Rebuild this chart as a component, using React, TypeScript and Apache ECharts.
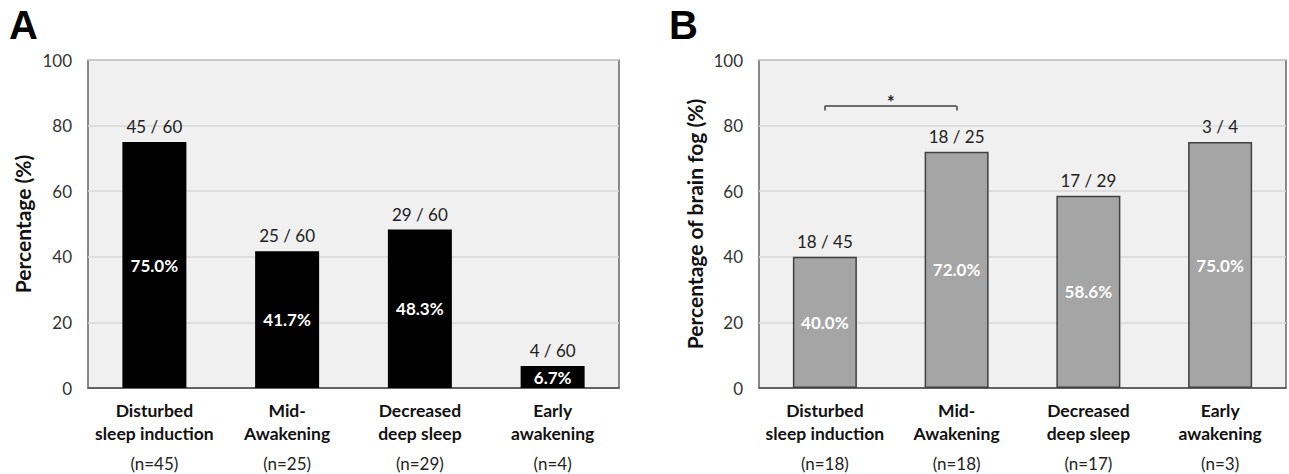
import React, { useEffect, useRef } from "react";
import * as echarts from "echarts";

const categories = ["Disturbed\nsleep induction", "Mid-\nAwakening", "Decreased\ndeep sleep", "Early\nawakening"];
const aCounts = [45, 25, 29, 4];
const aTotal = 60;
const aPercent = [75.0, 41.7, 48.3, 6.7];
const aN = [45, 25, 29, 4];
const bCounts = [18, 18, 17, 3];
const bTotals = [45, 25, 29, 4];
const bPercent = [40.0, 72.0, 58.6, 75.0];
const bN = [18, 18, 17, 3];
const yTicks = [0, 20, 40, 60, 80, 100];

const FONT = "Lato";

function catAxis(gridIndex: number, ns: number[]) {
  return {
    type: "category",
    gridIndex,
    data: categories,
    axisTick: { show: false },
    axisLine: { lineStyle: { color: "#404040", width: 1.5 } },
    axisLabel: {
      margin: 11,
      interval: 0,
      formatter: (v: string, i: number) => {
        const lines = v.split("\n");
        return `{b|${lines[0]}}\n{b|${lines[1]}}\n{n|(n=${ns[i]})}`;
      },
      rich: {
        b: { fontFamily: FONT, fontWeight: "bold", fontSize: 17.5, color: "#111", lineHeight: 23 },
        n: { fontFamily: FONT, fontSize: 17, color: "#222", lineHeight: 37 },
      },
    },
  };
}

function valAxis(gridIndex: number, name: string, nameGap: number) {
  return {
    type: "value",
    gridIndex,
    min: 0,
    max: 100,
    interval: 20,
    name,
    nameLocation: "middle",
    nameGap,
    nameTextStyle: { fontFamily: FONT, fontWeight: "bold", fontSize: 21, color: "#111" },
    axisLine: { show: false },
    axisTick: { show: false },
    axisLabel: {
      margin: 16,
      fontFamily: FONT,
      fontSize: 17,
      color: "#333",
      formatter: (v: number) => (yTicks.includes(v) ? String(v) : ""),
    },
    splitLine: { lineStyle: { color: "#d9d9d9", width: 1.5 } },
  };
}

export default function App() {
  const ref = useRef<HTMLDivElement>(null);
  useEffect(() => {
    if (!ref.current) return;
    const chart = echarts.init(ref.current, null, { renderer: "svg" });
    const option: any = {
      animation: false,
      backgroundColor: "#ffffff",
      title: [
        { text: "A", left: 4, top: 0, textStyle: { fontFamily: "Liberation Sans", fontWeight: "bold", fontSize: 40, color: "#000" } },
        { text: "B", left: 664, top: 0, textStyle: { fontFamily: "Liberation Sans", fontWeight: "bold", fontSize: 40, color: "#000" } },
      ],
      grid: [
        { left: 88, top: 60, width: 531, height: 328, show: true, backgroundColor: "#f0f0f0", borderColor: "#404040", borderWidth: 1.2 },
        { left: 759, top: 60, width: 527, height: 328, show: true, backgroundColor: "#f0f0f0", borderColor: "#404040", borderWidth: 1.2 },
      ],
      xAxis: [catAxis(0, aN), catAxis(1, bN)],
      yAxis: [valAxis(0, "Percentage (%)", 55), valAxis(1, "Percentage of brain fog (%)", 54)],
      series: [
        {
          type: "bar",
          xAxisIndex: 0,
          yAxisIndex: 0,
          data: aPercent,
          barWidth: 64,
          itemStyle: { color: "#000000" },
          label: {
            show: true,
            position: "inside",
            formatter: (p: any) => `${p.value.toFixed(1)}%`,
            fontFamily: FONT,
            fontWeight: "bold",
            fontSize: 17,
            color: "#ffffff",
          },
        },
        {
          type: "bar",
          xAxisIndex: 0,
          yAxisIndex: 0,
          data: aPercent,
          barWidth: 64,
          barGap: "-100%",
          itemStyle: { color: "rgba(0,0,0,0)" },
          label: {
            show: true,
            position: "top",
            distance: 7,
            formatter: (p: any) => `${aCounts[p.dataIndex]} / ${aTotal}`,
            fontFamily: FONT,
            fontSize: 17,
            color: "#222",
          },
        },
        {
          type: "bar",
          xAxisIndex: 1,
          yAxisIndex: 1,
          data: bPercent,
          barWidth: 64,
          itemStyle: { color: "#a5a5a5", borderColor: "#404040", borderWidth: 1.5 },
          label: {
            show: true,
            position: "inside",
            formatter: (p: any) => `${p.value.toFixed(1)}%`,
            fontFamily: FONT,
            fontWeight: "bold",
            fontSize: 17,
            color: "#ffffff",
          },
          markLine: {
            silent: true,
            symbol: "none",
            lineStyle: { color: "#404040", width: 1.5, type: "solid" },
            label: { show: false },
            data: [
              [
                { coord: [0, 86], label: { show: true, position: "insideMiddleTop", formatter: "*", fontFamily: FONT, fontWeight: "bold", fontSize: 18, color: "#222", distance: -5 } },
                { coord: [1, 86] },
              ],
              [{ coord: [0, 86] }, { coord: [0, 84.6] }],
              [{ coord: [1, 86] }, { coord: [1, 84.6] }],
            ],
          },
        },
        {
          type: "bar",
          xAxisIndex: 1,
          yAxisIndex: 1,
          data: bPercent,
          barWidth: 64,
          barGap: "-100%",
          itemStyle: { color: "rgba(0,0,0,0)" },
          label: {
            show: true,
            position: "top",
            distance: 7,
            formatter: (p: any) => `${bCounts[p.dataIndex]} / ${bTotals[p.dataIndex]}`,
            fontFamily: FONT,
            fontSize: 17,
            color: "#222",
          },
        },
      ],
    };
    chart.setOption(option);
    return () => chart.dispose();
  }, []);
  return <div ref={ref} style={{ position: "fixed", left: 0, top: 0, width: 1289, height: 474 }} />;
}
